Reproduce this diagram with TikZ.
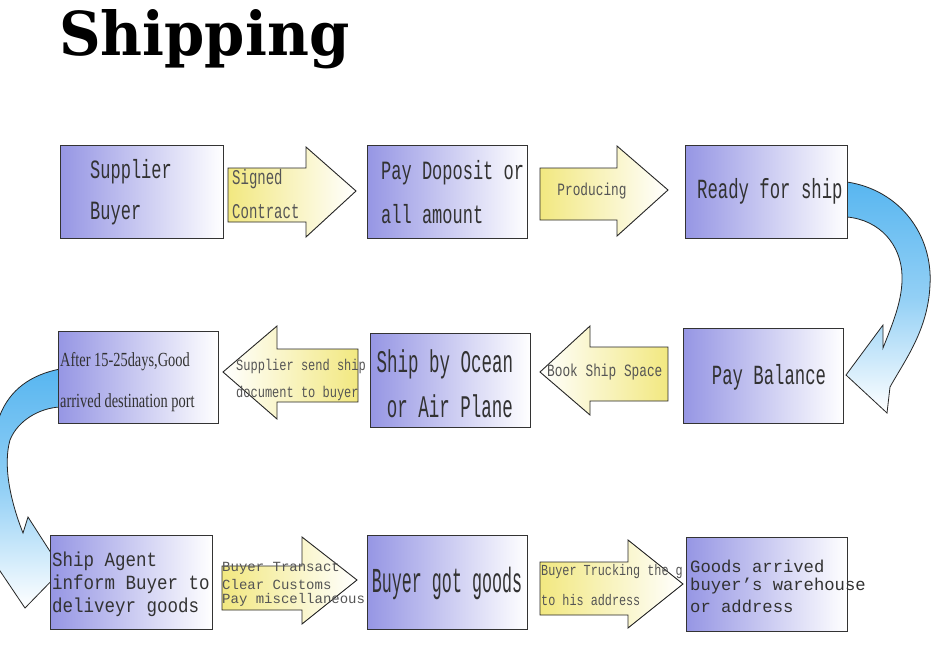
\documentclass[tikz,border=0pt]{standalone}
\usepackage{fontspec}
\usepackage{graphicx}
\setmainfont{Liberation Serif}
\newfontfamily\mono{Liberation Mono}
\newfontfamily\titlefont{DejaVu Serif}
\definecolor{boxblue}{RGB}{150,150,228}
\definecolor{yel}{RGB}{242,232,128}
\definecolor{skyb}{RGB}{88,182,240}
\definecolor{txtg}{RGB}{50,50,50}
\definecolor{txtl}{RGB}{85,85,85}
\newcommand{\mt}[3]{{\mono\fontsize{#1}{#1}\selectfont\scalebox{1}[#2]{#3}}}
\newcommand{\st}[1]{{\fontsize{20}{20}\selectfont\scalebox{0.72}[1]{#1}}}
\tikzset{
  box/.style={draw=black!80, line width=1pt, left color=boxblue, right color=white, inner sep=0pt, anchor=north west},
  rarr/.style={draw=black!85, line width=0.9pt, left color=yel, right color=white},
  larr/.style={draw=black!85, line width=0.9pt, left color=white, right color=yel},
  barr/.style={draw=black!85, line width=0.8pt, top color=skyb, bottom color=white, middle color=skyb!65},
  bt/.style={inner sep=0pt, anchor=west, text=txtg},
  arrtxt/.style={inner sep=0pt, anchor=west, text=txtl},
}
\begin{document}
\begin{tikzpicture}[x=1pt,y=-1pt]
\useasboundingbox (0,0) rectangle (945,654);
\fill[white] (0,0) rectangle (945,654);

% title
\node[inner sep=0pt, anchor=base west] (title) at (59,55) {\resizebox{290pt}{46pt}{\titlefont\bfseries Shipping}};

% curved arrows
\path[barr] (847,182) .. controls (900,190) and (933,235) .. (930,285)
  .. controls (928,330) and (905,360) .. (890,387) -- (887,413) -- (846,375)
  -- (883,325) -- (883,348) .. controls (892,325) and (903,300) .. (902,275)
  .. controls (901,245) and (880,220) .. (847,217) -- cycle;
\path[barr] (60,369) .. controls (30,375) and (10,390) .. (0,415)
  .. controls (-12,450) and (-12,520) .. (-4,565) -- (25,608) -- (62,570)
  -- (28,517) -- (23,533) .. controls (10,500) and (3,465) .. (10,440)
  .. controls (18,420) and (40,408) .. (60,407) -- cycle;

% straight block arrows
\path[rarr] (228,168) -- (306,168) -- (306,147) -- (356,191) -- (306,237) -- (306,222) -- (228,222) -- cycle;
\path[rarr] (540,168) -- (617,168) -- (617,146) -- (668,190) -- (617,236) -- (617,220) -- (540,220) -- cycle;
\path[larr] (358,349) -- (277,349) -- (277,326) -- (223,372) -- (277,419) -- (277,402) -- (358,402) -- cycle;
\path[larr] (668,347) -- (590,347) -- (590,326) -- (540,372) -- (590,415) -- (590,401) -- (668,401) -- cycle;
\path[rarr] (222,566) -- (302,566) -- (302,537) -- (357,580) -- (302,624) -- (302,610) -- (222,610) -- cycle;
\path[rarr] (540,562) -- (628,562) -- (628,540) -- (683,584) -- (628,628) -- (628,615) -- (540,615) -- cycle;

% boxes
\node[box, minimum width=163pt, minimum height=93pt] (b1) at (60,145) {};
\node[box, minimum width=160pt, minimum height=93pt] (b2) at (367,145) {};
\node[box, minimum width=162pt, minimum height=93pt] (b3) at (685,145) {};
\node[box, minimum width=160pt, minimum height=92pt] (b4) at (58,331) {};
\node[box, minimum width=160pt, minimum height=94pt] (b5) at (370,333) {};
\node[box, minimum width=160pt, minimum height=95pt] (b6) at (683,328) {};
\node[box, minimum width=162pt, minimum height=94pt] (b7) at (50,535) {};
\node[box, minimum width=160pt, minimum height=94pt] (b8) at (367,535) {};
\node[box, minimum width=161pt, minimum height=94pt] (b9) at (686,537) {};

% box texts
\node[bt] (t1a) at (90,172) {\mt{17}{1.55}{Supplier}};
\node[bt] (t1b) at (90,214) {\mt{17}{1.55}{Buyer}};
\node[bt] (t2a) at (381,173) {\mt{17}{1.55}{Pay Doposit or}};
\node[bt] (t2b) at (381,214) {\mt{17}{1.55}{all amount}};
\node[bt] (t3) at (697,191) {\mt{17.3}{1.6}{Ready for ship}};
\node[bt] (t4a) at (60,362) {\st{After 15-25days,Good}};
\node[bt] (t4b) at (60,403) {\st{arrived destination port}};
\node[bt, anchor=center] (t5a) at (445,364) {\mt{17.5}{1.8}{Ship by Ocean}};
\node[bt, anchor=center] (t5b) at (450,406) {\mt{17.5}{1.8}{or Air Plane}};
\node[bt, anchor=center] (t6) at (769,377) {\mt{17.3}{1.6}{Pay Balance}};
\node[bt] (t7a) at (52,561) {\mt{17.5}{1.15}{Ship Agent}};
\node[bt] (t7b) at (52,584) {\mt{17.5}{1.15}{inform Buyer to}};
\node[bt] (t7c) at (52,607) {\mt{17.5}{1.15}{deliveyr goods}};
\node[bt, anchor=center] (t8) at (447,583) {\mt{16.7}{2.1}{Buyer got goods}};
\node[bt] (t9a) at (690,566) {\mt{17.2}{1.0}{Goods arrived}};
\node[bt] (t9b) at (690,586) {\mt{17.2}{1.0}{buyer’s warehouse}};
\node[bt] (t9c) at (690,606) {\mt{17.2}{1.0}{or address}};

% arrow texts
\node[arrtxt] (a1a) at (232,179) {\mt{14}{1.5}{Signed}};
\node[arrtxt] (a1b) at (232,212) {\mt{14}{1.5}{Contract}};
\node[arrtxt, anchor=center] (a2) at (592,191) {\mt{12.8}{1.35}{Producing}};
\node[arrtxt] (a3a) at (236,366) {\mt{12}{1.3}{Supplier send ship}};
\node[arrtxt] (a3b) at (236,393) {\mt{12}{1.3}{document to buyer}};
\node[arrtxt] (a4) at (547,372) {\mt{12.8}{1.35}{Book Ship Space}};
\node[arrtxt] (a5a) at (222,568) {\mt{14}{1.0}{Buyer Transact}};
\node[arrtxt] (a5b) at (222,584) {\mt{14}{1.0}{Clear Customs}};
\node[arrtxt] (a5c) at (222,600) {\mt{14}{1.0}{Pay miscellaneous}};
\node[arrtxt] (a6a) at (541,572) {\mt{11.8}{1.3}{Buyer Trucking the g}};
\node[arrtxt] (a6b) at (541,600) {\mt{11.8}{1.3}{to his address}};
\end{tikzpicture}
\end{document}
